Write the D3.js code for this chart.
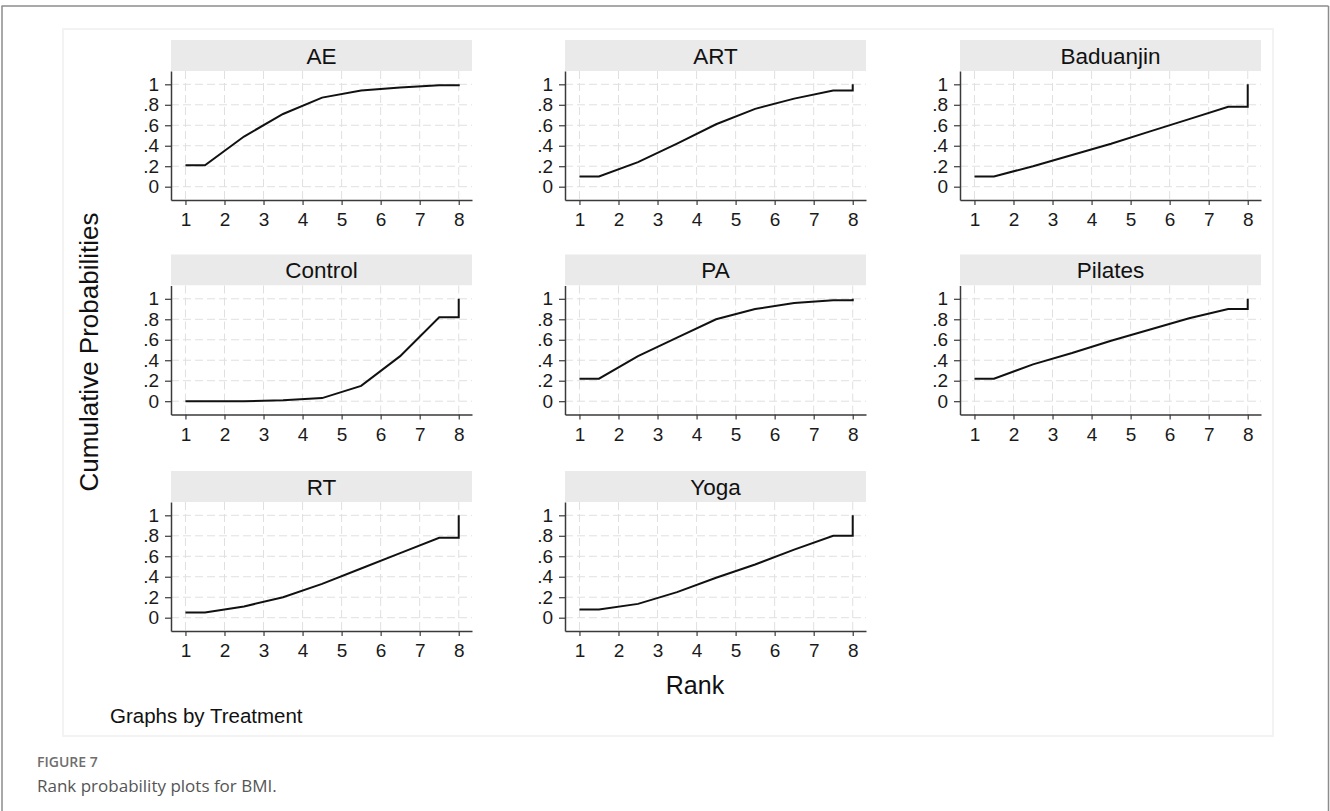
<!DOCTYPE html>
<html>
<head>
<meta charset="utf-8">
<script src="https://cdn.jsdelivr.net/npm/d3@7"></script>
<style>
  html, body { margin: 0; padding: 0; background: #ffffff; }
  svg { display: block; }
</style>
</head>
<body>
<svg id="chart" width="1330" height="811"></svg>
<script>
// ---------------- data ----------------
const treatments = ["AE", "ART", "Baduanjin", "Control", "PA", "Pilates", "RT", "Yoga"];
const ranks = [1, 2, 3, 4, 5, 6, 7, 8];
// cumulative probability of being ranked <= k, k = 1..8
const cumAE        = [0.21, 0.49, 0.71, 0.87, 0.94, 0.97, 0.99, 1.00];
const cumART       = [0.10, 0.24, 0.42, 0.61, 0.76, 0.86, 0.94, 1.00];
const cumBaduanjin = [0.10, 0.20, 0.31, 0.42, 0.54, 0.66, 0.78, 1.00];
const cumControl   = [0.00, 0.00, 0.01, 0.03, 0.15, 0.44, 0.82, 1.00];
const cumPA        = [0.22, 0.44, 0.62, 0.80, 0.90, 0.96, 0.985, 1.00];
const cumPilates   = [0.22, 0.36, 0.47, 0.59, 0.70, 0.81, 0.90, 1.00];
const cumRT        = [0.05, 0.11, 0.20, 0.33, 0.48, 0.63, 0.78, 1.00];
const cumYoga      = [0.08, 0.135, 0.25, 0.39, 0.52, 0.665, 0.80, 1.00];
const yTickValues = [0, 0.2, 0.4, 0.6, 0.8, 1];
const yTickLabels = ["0", ".2", ".4", ".6", ".8", "1"];
const xTickLabels = ["1", "2", "3", "4", "5", "6", "7", "8"];
const yTitle = "Cumulative Probabilities";
const xTitle = "Rank";
const note = "Graphs by Treatment";
const figLabel = "FIGURE 7";
const figCaption = "Rank probability plots for BMI.";

const seriesByTreatment = {
  "AE": cumAE, "ART": cumART, "Baduanjin": cumBaduanjin, "Control": cumControl,
  "PA": cumPA, "Pilates": cumPilates, "RT": cumRT, "Yoga": cumYoga
};

// Stata-style rank plot path: flat from rank 1 to 1.5, then connect the
// cumulative values at k+0.5, flat to 8 and jump to the final value at 8.
function rankPath(vals) {
  const pts = [{x: ranks[0], y: vals[0]}];
  for (let k = 0; k < ranks.length - 1; k++) pts.push({x: ranks[k] + 0.5, y: vals[k]});
  pts.push({x: ranks[ranks.length - 1], y: vals[vals.length - 2]});
  pts.push({x: ranks[ranks.length - 1], y: vals[vals.length - 1]});
  return pts;
}

// ---------------- layout ----------------
const svg = d3.select("#chart");
const FONT = "'Liberation Sans', Arial, Helvetica, sans-serif";

// page frame
svg.append("line").attr("x1", 1.5).attr("x2", 1328.5).attr("y1", 6).attr("y2", 6)
  .attr("stroke", "#8c8c8c").attr("stroke-width", 1.5);
svg.append("line").attr("x1", 2).attr("x2", 2).attr("y1", 6).attr("y2", 811)
  .attr("stroke", "#8c8c8c").attr("stroke-width", 1.5);
svg.append("line").attr("x1", 1328.5).attr("x2", 1328.5).attr("y1", 6).attr("y2", 811)
  .attr("stroke", "#8c8c8c").attr("stroke-width", 1.5);

// graph region
svg.append("rect").attr("x", 63).attr("y", 29).attr("width", 1210).attr("height", 707)
  .attr("fill", "#ffffff").attr("stroke", "#f3f3f3").attr("stroke-width", 2);

const colX = [171, 565, 960];
const rowTop = [40, 254.5, 471];
const panelW = 301, stripH = 31, plotH = 129;

treatments.forEach((t, i) => {
  const col = i % 3, row = Math.floor(i / 3);
  const x0 = colX[col], top = rowTop[row];
  const pTop = top + stripH, pBot = pTop + plotH;

  const x = d3.scaleLinear().domain([0.63, 8.34]).range([x0, x0 + panelW]);
  const y = d3.scaleLinear().domain([-0.13, 1.13]).range([pBot, pTop]);

  const g = svg.append("g");

  // strip
  g.append("rect").attr("x", x0).attr("y", top).attr("width", panelW).attr("height", stripH)
    .attr("fill", "#eaeaea");
  g.append("text").attr("x", x0 + panelW / 2).attr("y", top + stripH / 2 + 8)
    .attr("text-anchor", "middle").attr("font-family", FONT).attr("font-size", 22.5)
    .attr("fill", "#111").text(t);

  // plot bg
  g.append("rect").attr("x", x0).attr("y", pTop).attr("width", panelW).attr("height", plotH)
    .attr("fill", "#ffffff");

  // grid
  g.append("g").selectAll("line").data(yTickValues).join("line")
    .attr("x1", x0).attr("x2", x0 + panelW)
    .attr("y1", d => y(d)).attr("y2", d => y(d))
    .attr("stroke", "#e0e0e0").attr("stroke-width", 1).attr("stroke-dasharray", "8,4");
  g.append("g").selectAll("line").data(ranks).join("line")
    .attr("x1", d => x(d)).attr("x2", d => x(d))
    .attr("y1", pTop).attr("y2", pBot)
    .attr("stroke", "#e0e0e0").attr("stroke-width", 1).attr("stroke-dasharray", "8,4");

  // axes
  const xAxis = d3.axisBottom(x).tickValues(ranks).tickFormat((d, j) => xTickLabels[j])
    .tickSize(5).tickPadding(8).tickSizeOuter(0);
  const gx = g.append("g").attr("transform", `translate(0,${pBot})`).call(xAxis);
  const yAxis = d3.axisLeft(y).tickValues(yTickValues).tickFormat((d, j) => yTickLabels[j])
    .tickSize(6).tickPadding(6).tickSizeOuter(0);
  const gy = g.append("g").attr("transform", `translate(${x0},0)`).call(yAxis);
  [gx, gy].forEach(a => {
    a.select(".domain").attr("stroke", "#3a3a3a").attr("stroke-width", 1.5);
    a.selectAll(".tick line").attr("stroke", "#3a3a3a").attr("stroke-width", 1.2);
    a.selectAll(".tick text").attr("font-family", FONT).attr("font-size", 19).attr("fill", "#1a1a1a");
  });

  // line
  const line = d3.line().x(d => x(d.x)).y(d => y(d.y));
  g.append("path").datum(rankPath(seriesByTreatment[t]))
    .attr("d", line).attr("fill", "none").attr("stroke", "#111")
    .attr("stroke-width", 2).attr("stroke-linejoin", "miter");
});

// titles
svg.append("text").attr("transform", "translate(98,352) rotate(-90)")
  .attr("text-anchor", "middle").attr("font-family", FONT).attr("font-size", 26)
  .attr("fill", "#111").text(yTitle);
svg.append("text").attr("x", 695).attr("y", 694)
  .attr("text-anchor", "middle").attr("font-family", FONT).attr("font-size", 25)
  .attr("fill", "#111").text(xTitle);
svg.append("text").attr("x", 110).attr("y", 723)
  .attr("font-family", FONT).attr("font-size", 20.5)
  .attr("fill", "#111").text(note);

// caption
svg.append("text").attr("x", 37).attr("y", 767)
  .attr("font-family", "'Open Sans', 'Noto Sans', sans-serif").attr("font-size", 14)
  .attr("font-weight", 600).attr("fill", "#6e6e6e").text(figLabel);
svg.append("text").attr("x", 37).attr("y", 792)
  .attr("font-family", "'Open Sans', 'Noto Sans', sans-serif").attr("font-size", 17)
  .attr("fill", "#555").text(figCaption);
</script>
</body>
</html>
